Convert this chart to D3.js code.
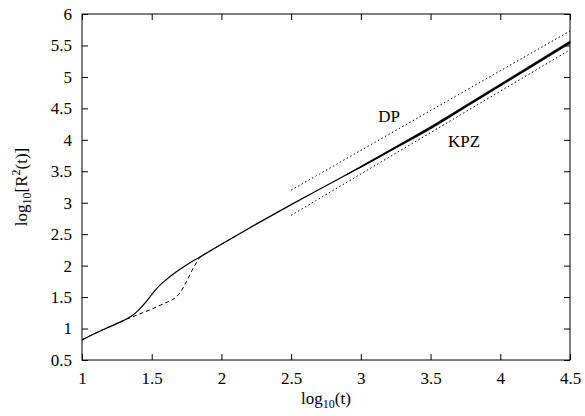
<!DOCTYPE html>
<html>
<head>
<meta charset="utf-8">
<script src="https://cdn.jsdelivr.net/npm/d3@7"></script>
<style>
  body { margin: 0; background: #fff; }
  text { font-family: "Liberation Serif", "Times New Roman", serif; fill: #000; }
</style>
</head>
<body>
<svg width="585" height="416"></svg>
<script>
// log10(t) -> log10[R^2(t)]
const solidT = [1, 1.1, 1.2, 1.3, 1.35, 1.4, 1.45, 1.5, 1.55, 1.6, 1.65, 1.7, 1.75, 1.8, 1.85, 1.9, 2, 2.25, 2.5, 2.75, 3, 3.25, 3.5, 3.75, 4, 4.25, 4.5];
const solidR = [0.82, 0.93, 1.03, 1.13, 1.19, 1.28, 1.40, 1.54, 1.67, 1.77, 1.86, 1.94, 2.01, 2.08, 2.14, 2.21, 2.34, 2.66, 2.97, 3.27, 3.57, 3.88, 4.19, 4.53, 4.87, 5.21, 5.55];
// fluctuation half-width of the noisy tail
const noiseT = [2.9, 3, 3.25, 3.5, 3.75, 4, 4.25, 4.5];
const noiseW = [0, 0.008, 0.014, 0.02, 0.018, 0.018, 0.02, 0.02];

const dashT = [1, 1.1, 1.2, 1.3, 1.4, 1.5, 1.6, 1.65, 1.7, 1.75, 1.8, 1.85, 1.9, 2, 2.1];
const dashR = [0.82, 0.93, 1.03, 1.13, 1.22, 1.31, 1.41, 1.46, 1.56, 1.75, 1.97, 2.14, 2.21, 2.34, 2.47];

// guide lines
const dpT = [2.5, 4.5], dpR = [3.2, 5.73];
const kpzT = [2.5, 4.5], kpzR = [2.8, 5.43];

const xTicks = [1, 1.5, 2, 2.5, 3, 3.5, 4, 4.5];
const yTicks = [0.5, 1, 1.5, 2, 2.5, 3, 3.5, 4, 4.5, 5, 5.5, 6];

const svg = d3.select("svg");
const mLeft = 82, mRight = 570, mTop = 14, mBottom = 360;

const x = d3.scaleLinear().domain([1, 4.5]).range([mLeft, mRight]);
const y = d3.scaleLinear().domain([0.5, 6]).range([mBottom, mTop]);

const zip = (a, b) => a.map((v, i) => [v, b[i]]);
const line = d3.line().x(d => x(d[0])).y(d => y(d[1]));

// ticks (inside, mirrored)
const tl = 6;
svg.append("g").attr("transform", `translate(0,${mBottom})`)
    .call(d3.axisBottom(x).tickValues(xTicks).tickSize(-tl).tickFormat(d3.format("")).tickPadding(12))
    .call(g => g.select(".domain").remove());
svg.append("g").attr("transform", `translate(0,${mTop})`)
    .call(d3.axisTop(x).tickValues(xTicks).tickSize(-tl).tickFormat(""))
    .call(g => g.select(".domain").remove());
svg.append("g").attr("transform", `translate(${mLeft},0)`)
    .call(d3.axisLeft(y).tickValues(yTicks).tickSize(-tl).tickFormat(d3.format("")).tickPadding(10))
    .call(g => g.select(".domain").remove());
svg.append("g").attr("transform", `translate(${mRight},0)`)
    .call(d3.axisRight(y).tickValues(yTicks).tickSize(-tl).tickFormat(""))
    .call(g => g.select(".domain").remove());

svg.selectAll(".tick line").attr("stroke", "#000");
svg.selectAll(".tick text").attr("font-size", 17).attr("font-family", "Liberation Serif");

svg.append("rect")
    .attr("x", mLeft).attr("y", mTop)
    .attr("width", mRight - mLeft).attr("height", mBottom - mTop)
    .attr("fill", "none").attr("stroke", "#000").attr("stroke-width", 1);

// guide lines
svg.append("path").datum(zip(dpT, dpR)).attr("d", line)
    .attr("fill", "none").attr("stroke", "#000").attr("stroke-width", 1)
    .attr("stroke-dasharray", "1.5,2.5");
svg.append("path").datum(zip(kpzT, kpzR)).attr("d", line)
    .attr("fill", "none").attr("stroke", "#000").attr("stroke-width", 1)
    .attr("stroke-dasharray", "1.5,2.5");

// dashed curve
svg.append("path").datum(zip(dashT, dashR)).attr("d", line.curve(d3.curveMonotoneX))
    .attr("fill", "none").attr("stroke", "#000").attr("stroke-width", 1)
    .attr("stroke-dasharray", "4,3");

// solid curve
svg.append("path").datum(zip(solidT, solidR)).attr("d", line.curve(d3.curveMonotoneX))
    .attr("fill", "none").attr("stroke", "#000").attr("stroke-width", 1.2);

// noisy band
const interpR = d3.scaleLinear().domain(solidT).range(solidR);
const band = d3.area().curve(d3.curveMonotoneX)
    .x(d => x(d))
    .y0((d, i) => y(interpR(d) - noiseW[i]))
    .y1((d, i) => y(interpR(d) + noiseW[i]));
svg.append("path").datum(noiseT).attr("d", band).attr("fill", "#000")
    .attr("stroke", "#000").attr("stroke-width", 0.6);

// labels
svg.append("text").attr("x", 389).attr("y", 122).attr("text-anchor", "middle")
    .attr("font-size", 17).text("DP");
svg.append("text").attr("x", 464).attr("y", 147).attr("text-anchor", "middle")
    .attr("font-size", 17).text("KPZ");

// axis titles
const xt = svg.append("text").attr("x", (mLeft + mRight) / 2).attr("y", 404)
    .attr("text-anchor", "middle").attr("font-size", 17);
xt.append("tspan").text("log");
xt.append("tspan").attr("font-size", 12).attr("dy", 4).text("10");
xt.append("tspan").attr("dy", -4).text("(t)");

const yt = svg.append("text")
    .attr("transform", `translate(27,${(mTop + mBottom) / 2}) rotate(-90)`)
    .attr("text-anchor", "middle").attr("font-size", 17);
yt.append("tspan").text("log");
yt.append("tspan").attr("font-size", 12).attr("dy", 4).text("10");
yt.append("tspan").attr("dy", -4).text("[R");
yt.append("tspan").attr("font-size", 12).attr("dy", -7).text("2");
yt.append("tspan").attr("dy", 7).text("(t)]");
</script>
</body>
</html>
